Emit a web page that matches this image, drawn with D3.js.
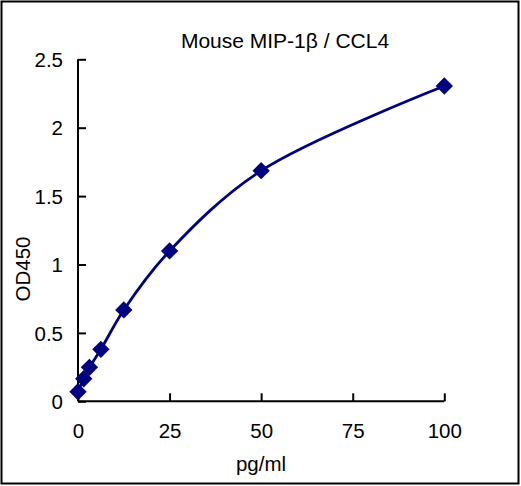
<!DOCTYPE html>
<html>
<head>
<meta charset="utf-8">
<script src="https://cdn.jsdelivr.net/npm/d3@7"></script>
<style>
  html, body { margin: 0; padding: 0; background: #fff; }
  svg { display: block; }
  text { font-family: "Liberation Sans", Arial, sans-serif; fill: #000; }
</style>
</head>
<body>
<script>
const title = "Mouse MIP-1β / CCL4";
const xLabel = "pg/ml";
const yLabel = "OD450";
const concentrations = [0, 1.56, 3.125, 6.25, 12.5, 25, 50, 100];
const odValues = [0.07, 0.165, 0.248, 0.38, 0.668, 1.099, 1.686, 2.305];
const xTicks = [0, 25, 50, 75, 100];
const yTicks = [0, 0.5, 1, 1.5, 2, 2.5];
const yTickLabels = ["0", "0.5", "1", "1.5", "2", "2.5"];

const W = 521, H = 486;
const svg = d3.select("body").append("svg").attr("width", W).attr("height", H);

svg.append("rect").attr("x", 1.5).attr("y", 1.5).attr("width", 517).attr("height", 482)
  .attr("fill", "#fff").attr("stroke", "#000").attr("stroke-width", 2);

const x = d3.scaleLinear().domain([0, 100]).range([78, 444.3]);
const y = d3.scaleLinear().domain([0, 2.5]).range([401.3, 59.3]);

const fs = 20.5;
const xAxis = svg.append("g").attr("transform", `translate(0,${y(0)})`)
  .call(d3.axisBottom(x).tickValues(xTicks).tickSize(-8).tickPadding(0).tickFormat(d3.format("d")));
const yAxis = svg.append("g").attr("transform", `translate(${x(0)},0)`)
  .call(d3.axisLeft(y).tickValues(yTicks).tickSize(-8).tickPadding(0)
    .tickFormat((d, i) => yTickLabels[i]));

[xAxis, yAxis].forEach(g => {
  g.select(".domain").attr("stroke", "#000").attr("stroke-width", 2);
  g.selectAll(".tick line").attr("stroke", "#000").attr("stroke-width", 2);
  g.selectAll(".tick text").attr("font-size", fs).attr("font-family", "Liberation Sans, Arial, sans-serif").attr("fill", "#000");
});
xAxis.select(".domain").attr("d", `M${x(0)},0H${x(100)}`);
yAxis.select(".domain").attr("d", `M0,${y(0)}V${y(2.5)}`);
xAxis.selectAll(".tick text").attr("y", 37).attr("dy", 0);
yAxis.selectAll(".tick text").attr("x", -15).attr("dy", "0.35em");

svg.append("text").attr("x", 285).attr("y", 48).attr("text-anchor", "middle")
  .attr("font-size", 21).text(title);
svg.append("text").attr("x", 261).attr("y", 471).attr("text-anchor", "middle")
  .attr("font-size", fs).text(xLabel);
svg.append("text").attr("transform", `translate(30,269) rotate(-90)`).attr("text-anchor", "middle")
  .attr("font-size", fs).text(yLabel);

const pts = concentrations.map((c, i) => [c, odValues[i]]);
const line = d3.line().x(d => x(d[0])).y(d => y(d[1])).curve(d3.curveCatmullRom.alpha(0.5));
svg.append("path").attr("d", line(pts)).attr("fill", "none").attr("stroke", "#000080").attr("stroke-width", 2.8);

const sym = d3.symbol().type(d3.symbolSquare).size(150);
svg.selectAll(".pt").data(pts).enter().append("path")
  .attr("d", sym)
  .attr("transform", d => `translate(${x(d[0])},${y(d[1])}) rotate(45)`)
  .attr("fill", "#000080");
</script>
</body>
</html>
